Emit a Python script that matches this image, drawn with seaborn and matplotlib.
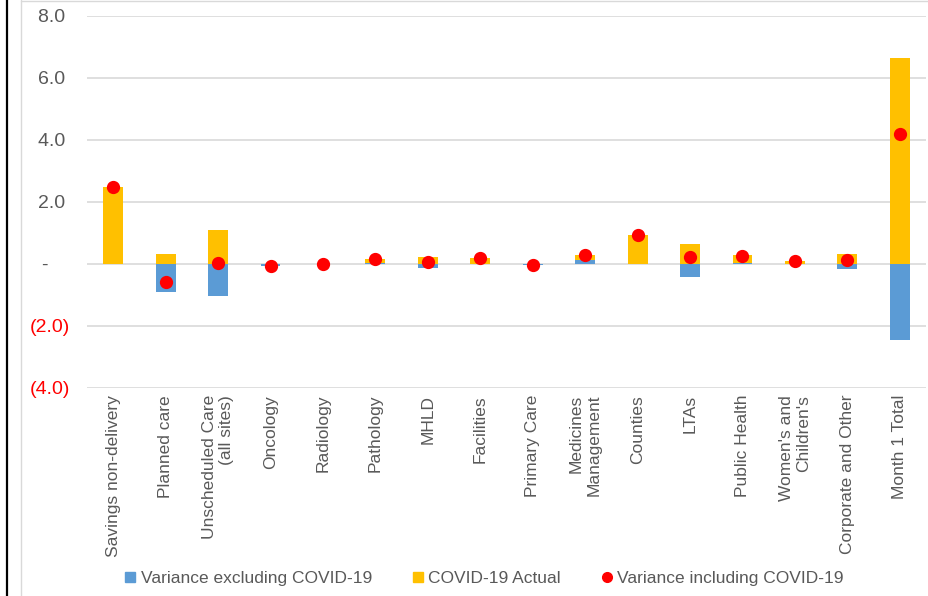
import numpy as np
import pandas as pd
import seaborn as sns
import matplotlib.pyplot as plt
from matplotlib.lines import Line2D

# Month 1 variance by directorate (£m)
categories = [
    "Savings non-delivery", "Planned care", "Unscheduled Care\n(all sites)",
    "Oncology", "Radiology", "Pathology", "MHLD", "Facilities", "Primary Care",
    "Medicines\nManagement", "Counties", "LTAs", "Public Health",
    "Women's and\nChildren's", "Corporate and Other", "Month 1 Total",
]
variance_excl_covid = [0.00, -0.90, -1.03, -0.05, 0.00, 0.02, -0.13, 0.00, -0.03,
                       0.14, 0.00, -0.41, 0.02, 0.00, -0.16, -2.46]
covid_actual = [2.50, 0.32, 1.10, 0.00, 0.00, 0.14, 0.22, 0.19, 0.00,
                0.15, 0.94, 0.65, 0.27, 0.11, 0.32, 6.65]
variance_incl_covid = [2.48, -0.58, 0.03, -0.05, 0.00, 0.15, 0.08, 0.19, -0.02,
                       0.29, 0.94, 0.22, 0.27, 0.10, 0.14, 4.18]

# accounting-style labels: positives padded to line up with the bracketed negatives
y_ticks = [-4, -2, 0, 2, 4, 6, 8]
y_tick_labels = ["(4.0)", "(2.0)", "-    ", "2.0 ", "4.0 ", "6.0 ", "8.0 "]

BLUE = "#5B9BD5"
YELLOW = "#FFC000"
RED = "#FF0000"
GREY_TEXT = "#595959"
GRID = "#D9D9D9"

sns.set_theme(style="white")
plt.rcParams["font.family"] = ["Liberation Sans", "DejaVu Sans"]

df = pd.DataFrame({
    "category": categories,
    "excl": variance_excl_covid,
    "covid": covid_actual,
    "incl": variance_incl_covid,
})
# COVID segment sits on top of any positive underlying variance
df["covid_top"] = df["excl"].clip(lower=0) + df["covid"]

fig = plt.figure(figsize=(9.29, 5.96), dpi=100)
ax = fig.add_axes([87 / 929, 1 - 388 / 596, (926 - 87) / 929, (388 - 16) / 596])

sns.barplot(data=df, x="category", y="covid_top", color=YELLOW, saturation=1,
            width=0.38, linewidth=0, errorbar=None, ax=ax, zorder=2)
sns.barplot(data=df, x="category", y="excl", color=BLUE, saturation=1,
            width=0.38, linewidth=0, errorbar=None, ax=ax, zorder=3)
sns.pointplot(data=df, x="category", y="incl", color=RED, linestyle="none",
              marker="o", markersize=7.5, errorbar=None, ax=ax, zorder=5)

ax.set_xlim(-0.5, len(categories) - 0.5)
ax.set_ylim(-4, 8)
ax.set_xlabel("")
ax.set_ylabel("")
sns.despine(ax=ax, left=True, bottom=True)
ax.grid(axis="y", color=GRID, linewidth=1.2)
ax.grid(axis="x", visible=False)
ax.set_axisbelow(True)

ax.set_yticks(y_ticks)
ax.set_yticklabels(y_tick_labels, fontsize=14)
for lab, v in zip(ax.get_yticklabels(), y_ticks):
    lab.set_color(RED if v < 0 else GREY_TEXT)
ax.tick_params(axis="y", length=0, pad=12)

ax.set_xticks(range(len(categories)))
ax.set_xticklabels(categories, rotation=90, ha="center", va="top",
                   multialignment="right", fontsize=12.5, color=GREY_TEXT)
ax.tick_params(axis="x", length=0, pad=5)

handles = [
    Line2D([], [], marker="s", color=BLUE, linestyle="none", markersize=7),
    Line2D([], [], marker="s", color=YELLOW, linestyle="none", markersize=7),
    Line2D([], [], marker="o", color=RED, linestyle="none", markersize=7),
]
labels = ["Variance excluding COVID-19", "COVID-19 Actual", "Variance including COVID-19"]
leg = fig.legend(handles, labels, loc="center", bbox_to_anchor=(484 / 929, 1 - 578 / 596),
                 ncol=3, frameon=False, fontsize=12.5, handlelength=0.7,
                 handletextpad=0.25, columnspacing=2.3)
for t in leg.get_texts():
    t.set_color(GREY_TEXT)

# chart frame and page edge
fig.add_artist(Line2D([21.5 / 929, 21.5 / 929], [0, 1], color="#D9D9D9", linewidth=1,
                      transform=fig.transFigure))
fig.add_artist(Line2D([21.5 / 929, 1], [1 - 0.5 / 596, 1 - 0.5 / 596], color="#D9D9D9",
                      linewidth=1, transform=fig.transFigure))
fig.add_artist(Line2D([7 / 929, 7 / 929], [0, 1], color="black", linewidth=1.6,
                      transform=fig.transFigure))

fig.savefig("out.png", dpi=100)
